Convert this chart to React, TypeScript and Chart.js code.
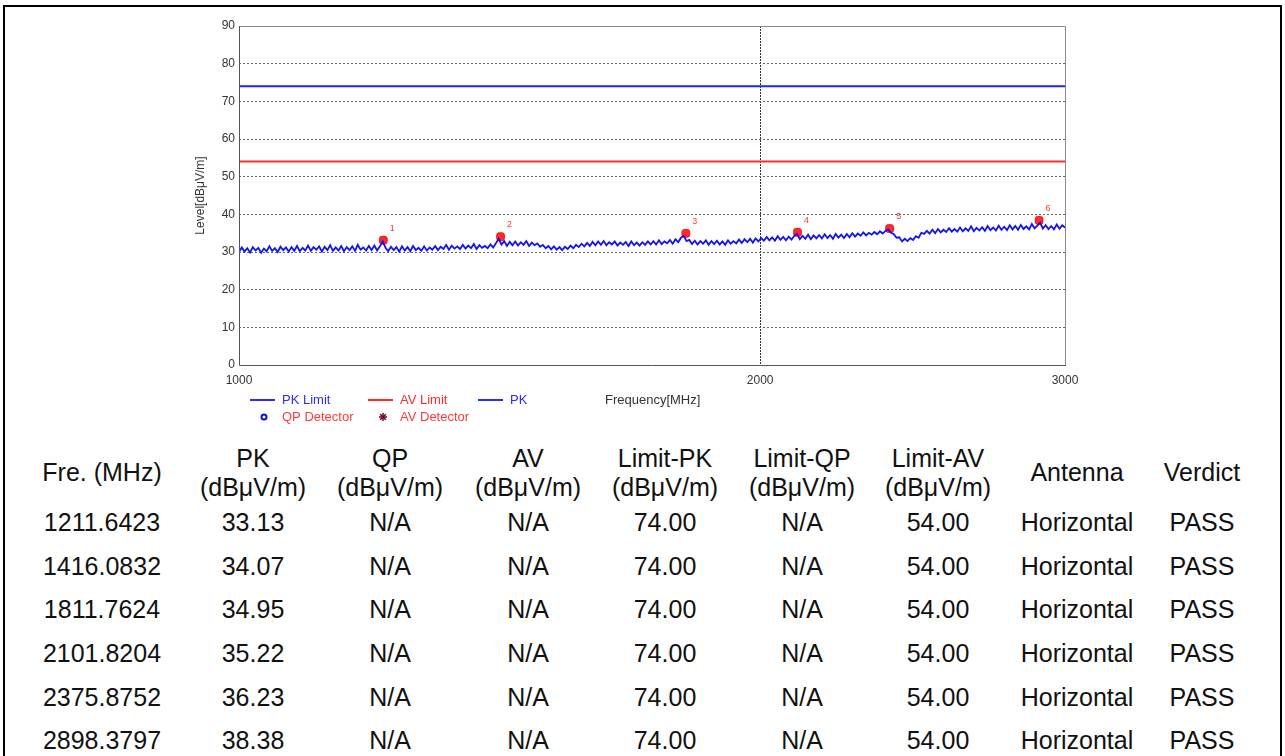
import React, { useEffect, useRef } from "react";
import { Chart, registerables } from "chart.js";

Chart.register(...registerables);

// ---- Data ----
const F_START = 1000;
const F_STOP = 3000;

// PK trace (dBµV/m) read from the sweep, 300 points from 1000 to 3000 MHz (log sweep grid)
const pkTrace = [
  30.0, 31.2, 30.1, 31.0, 29.9, 31.3, 30.4, 31.1, 29.8, 30.9,
  30.2, 31.5, 30.3, 31.0, 30.0, 31.4, 30.5, 31.2, 30.1, 31.3,
  30.3, 31.6, 30.2, 31.1, 30.4, 31.7, 30.3, 31.3, 30.6, 31.5,
  30.1, 31.4, 30.5, 31.8, 30.3, 31.2, 30.4, 31.6, 30.2, 31.3,
  30.5, 31.5, 30.3, 31.9, 30.6, 31.2, 30.4, 31.6, 30.5, 31.7,
  30.4, 31.5, 32.8, 31.2, 30.2, 31.4, 30.5, 31.3, 30.1, 31.5,
  30.4, 31.3, 30.2, 31.6, 30.5, 31.1, 30.3, 31.5, 30.4, 31.2,
  30.6, 31.6, 30.5, 31.4, 30.8, 31.9, 30.6, 31.7, 30.9, 31.5,
  30.8, 31.9, 30.9, 31.7, 31.0, 32.1, 30.8, 31.8, 31.1, 31.6,
  31.0, 32.0, 31.2, 32.3, 33.5, 32.0, 32.9, 31.6, 32.7, 31.8,
  32.8, 31.7, 32.6, 31.9, 32.9, 31.6, 32.5, 31.8, 32.3, 31.4,
  31.9, 31.0, 31.6, 30.7, 31.5, 30.6, 31.3, 30.5, 31.4, 30.8,
  31.7, 31.0, 31.9, 31.3, 32.2, 31.5, 32.4, 31.6, 32.7, 31.8,
  32.8, 31.9, 32.9, 31.8, 32.6, 32.0, 32.8, 31.7, 32.5, 31.9,
  32.7, 31.6, 32.8, 31.8, 32.5, 31.7, 32.6, 31.9, 32.8, 32.0,
  32.9, 32.0, 33.1, 32.1, 32.8, 32.3, 33.2, 32.2, 33.4, 32.6,
  33.8, 34.3, 32.9, 33.2, 32.1, 33.0, 32.0, 32.9, 32.2, 33.1,
  31.9, 32.9, 32.1, 33.0, 32.0, 32.8, 31.9, 33.1, 32.2, 32.9,
  32.3, 33.3, 32.4, 33.4, 32.6, 33.5, 32.5, 33.6, 32.8, 33.7,
  33.0, 34.0, 33.1, 33.9, 33.0, 34.2, 33.2, 34.0, 33.1, 34.1,
  33.3, 34.3, 34.8, 33.4, 34.3, 33.5, 34.6, 33.4, 34.4, 33.6,
  34.5, 33.6, 34.7, 33.7, 34.5, 33.5, 34.8, 33.8, 34.6, 33.7,
  34.8, 33.9, 35.0, 34.1, 34.9, 34.3, 35.2, 34.4, 35.1, 34.6,
  35.3, 34.7, 35.5, 34.9, 35.6, 36.0, 35.1, 34.8, 33.8, 33.9,
  32.8, 33.5, 32.9, 33.7, 33.2, 34.2, 33.8, 35.1, 34.8, 35.6,
  34.9, 35.9, 35.0, 36.1, 35.2, 35.9, 35.3, 36.3, 35.4, 36.1,
  35.4, 36.5, 35.5, 36.3, 35.6, 36.8, 35.5, 36.4, 35.7, 36.6,
  35.6, 36.9, 35.8, 36.5, 35.7, 37.0, 35.9, 36.7, 35.8, 37.1,
  36.0, 36.9, 35.9, 37.2, 36.1, 36.8, 36.0, 37.4, 36.3, 37.0,
  37.8, 36.2, 37.1, 36.1, 36.9, 36.0, 37.3, 36.2, 37.1, 36.5,
];

const markerFreq = [1211.6423, 1416.0832, 1811.7624, 2101.8204, 2375.8752, 2898.3797];
const markerPK = [33.13, 34.07, 34.95, 35.22, 36.23, 38.38];
const markerNames = ["1", "2", "3", "4", "5", "6"];
const markerQP = ["N/A", "N/A", "N/A", "N/A", "N/A", "N/A"];
const markerAV = ["N/A", "N/A", "N/A", "N/A", "N/A", "N/A"];
const limitQP = ["N/A", "N/A", "N/A", "N/A", "N/A", "N/A"];
const antenna = ["Horizontal", "Horizontal", "Horizontal", "Horizontal", "Horizontal", "Horizontal"];
const verdict = ["PASS", "PASS", "PASS", "PASS", "PASS", "PASS"];

const PK_LIMIT = 74;
const AV_LIMIT = 54;

const xTickValues = [1000, 2000, 3000];
const yMin = 0;
const yMax = 90;
const yStep = 10;

const headerCells: string[][] = [
  ["Fre. (MHz)"],
  ["PK", "(dBμV/m)"],
  ["QP", "(dBμV/m)"],
  ["AV", "(dBμV/m)"],
  ["Limit-PK", "(dBμV/m)"],
  ["Limit-QP", "(dBμV/m)"],
  ["Limit-AV", "(dBμV/m)"],
  ["Antenna"],
  ["Verdict"],
];

// ---- Layout constants ----
const colCenters = [102, 253, 390, 528, 665, 802, 938, 1077, 1202];
const rowCenters = [522, 566, 609, 653, 697, 740];
const FONT = "'Liberation Sans', Arial, Helvetica, sans-serif";

const textPlugin = {
  id: "emiText",
  afterDraw(chart: any) {
    const { ctx, chartArea, scales } = chart;
    const { left, right, top, bottom } = chartArea;
    ctx.save();
    // plot frame
    ctx.lineWidth = 1;
    ctx.strokeStyle = "#8a8a8a";
    ctx.beginPath();
    ctx.moveTo(left, top + 0.5);
    ctx.lineTo(right + 0.5, top + 0.5);
    ctx.lineTo(right + 0.5, bottom);
    ctx.stroke();
    ctx.strokeStyle = "#555";
    ctx.beginPath();
    ctx.moveTo(left + 0.5, top);
    ctx.lineTo(left + 0.5, bottom + 0.5);
    ctx.lineTo(right + 1, bottom + 0.5);
    ctx.stroke();

    // marker labels
    ctx.font = `9px ${FONT}`;
    ctx.fillStyle = "#ff3a3a";
    ctx.textAlign = "center";
    ctx.textBaseline = "middle";
    markerFreq.forEach((f, i) => {
      const x = scales.x.getPixelForValue(f);
      const y = scales.y.getPixelForValue(markerPK[i]);
      ctx.fillText(markerNames[i], x + 9, y - 12);
    });

    // y title
    ctx.save();
    ctx.translate(201, (top + bottom) / 2);
    ctx.rotate(-Math.PI / 2);
    ctx.font = `12px ${FONT}`;
    ctx.fillStyle = "#333";
    ctx.textAlign = "center";
    ctx.textBaseline = "middle";
    ctx.fillText("Level[dBμV/m]", 0, 0);
    ctx.restore();

    // x title
    ctx.font = `13px ${FONT}`;
    ctx.fillStyle = "#333";
    ctx.textAlign = "left";
    ctx.textBaseline = "middle";
    ctx.fillText("Frequency[MHz]", 605, 400);

    // legend row 1
    const legendLine = (x1: number, y: number, color: string, label: string) => {
      ctx.strokeStyle = color;
      ctx.lineWidth = 2;
      ctx.beginPath();
      ctx.moveTo(x1, y);
      ctx.lineTo(x1 + 25, y);
      ctx.stroke();
      ctx.fillStyle = color;
      ctx.fillText(label, x1 + 32, y);
    };
    legendLine(250, 400, "#2b2bff", "PK Limit");
    legendLine(368, 400, "#ff2b2b", "AV Limit");
    legendLine(478, 400, "#2b2bff", "PK");

    // legend row 2
    ctx.strokeStyle = "#1010d0";
    ctx.lineWidth = 2;
    ctx.beginPath();
    ctx.arc(264, 417, 2.5, 0, Math.PI * 2);
    ctx.stroke();
    ctx.fillStyle = "#ff3a3a";
    ctx.fillText("QP Detector", 282, 417);
    ctx.strokeStyle = "#7a0020";
    ctx.lineWidth = 1.5;
    for (let k = 0; k < 4; k++) {
      const a = (k * Math.PI) / 4;
      ctx.beginPath();
      ctx.moveTo(383 - 4 * Math.cos(a), 417 - 4 * Math.sin(a));
      ctx.lineTo(383 + 4 * Math.cos(a), 417 + 4 * Math.sin(a));
      ctx.stroke();
    }
    ctx.fillStyle = "#ff3a3a";
    ctx.fillText("AV Detector", 400, 417);
    ctx.restore();
  },
};

function EmiChart() {
  const canvasRef = useRef<HTMLCanvasElement | null>(null);

  useEffect(() => {
    if (!canvasRef.current) return;
    const n = pkTrace.length;
    const traceData = pkTrace.map((v, i) => ({
      x: F_START * Math.pow(F_STOP / F_START, i / (n - 1)),
      y: v,
    }));
    const markerData = markerFreq.map((f, i) => ({ x: f, y: markerPK[i] }));

    const chart = new Chart(canvasRef.current, {
      type: "line",
      data: {
        datasets: [
          {
            label: "PK Limit",
            data: [
              { x: F_START, y: PK_LIMIT },
              { x: F_STOP, y: PK_LIMIT },
            ],
            borderColor: "#2020ff",
            borderWidth: 2,
            pointRadius: 0,
          },
          {
            label: "AV Limit",
            data: [
              { x: F_START, y: AV_LIMIT },
              { x: F_STOP, y: AV_LIMIT },
            ],
            borderColor: "#ff2a2a",
            borderWidth: 2,
            pointRadius: 0,
          },
          {
            label: "PK",
            data: traceData,
            borderColor: "#1414ee",
            borderWidth: 1.8,
            pointRadius: 0,
            tension: 0,
          },
          {
            label: "Markers",
            data: markerData,
            showLine: false,
            pointStyle: "rectRounded",
            pointRadius: 4.5,
            pointBackgroundColor: "#ff2a2a",
            pointBorderColor: "#ff1010",
            pointBorderWidth: 1,
          },
          {
            label: "MarkerCross",
            data: markerData,
            showLine: false,
            pointStyle: "crossRot",
            pointRadius: 3,
            pointBorderColor: "#ffc0c0",
            pointBorderWidth: 1,
          },
        ],
      } as any,
      options: {
        responsive: false,
        animation: false,
        parsing: true,
        layout: { padding: { left: 199, right: 220, top: 26, bottom: 25 } },
        plugins: {
          legend: { display: false },
          tooltip: { enabled: false },
          title: { display: false },
        },
        scales: {
          x: {
            type: "logarithmic",
            min: F_START,
            max: F_STOP,
            afterBuildTicks: (s: any) => {
              s.ticks = xTickValues.map((v) => ({ value: v }));
            },
            afterFit: (s: any) => {
              s.height = 40;
            },
            ticks: {
              autoSkip: false,
              maxRotation: 0,
              padding: 8,
              color: "#333",
              font: { size: 12, family: FONT },
              callback: (v: any) => String(v),
            },
            grid: {
              drawTicks: false,
              lineWidth: 1,
              color: (c: any) =>
                c.tick && c.tick.value === 2000 ? "#333" : "rgba(0,0,0,0)",
            },
            border: { display: false, dash: [2, 1] },
          },
          y: {
            type: "linear",
            min: yMin,
            max: yMax,
            afterBuildTicks: (s: any) => {
              const t = [];
              for (let v = yMin; v <= yMax; v += yStep) t.push({ value: v });
              s.ticks = t;
            },
            afterFit: (s: any) => {
              s.width = 40;
            },
            ticks: {
              padding: 4,
              color: "#333",
              font: { size: 12, family: FONT },
            },
            grid: {
              drawTicks: false,
              lineWidth: 1,
              color: (c: any) =>
                c.tick && c.tick.value > yMin && c.tick.value < yMax
                  ? "#666"
                  : "rgba(0,0,0,0)",
            },
            border: { display: false, dash: [2, 2] },
          },
        },
      } as any,
      plugins: [textPlugin],
    });
    return () => chart.destroy();
  }, []);

  return (
    <canvas
      ref={canvasRef}
      width={1285}
      height={430}
      style={{ position: "absolute", left: 0, top: 0, width: 1285, height: 430 }}
    />
  );
}

const cellStyle = (cx: number, cy: number): React.CSSProperties => ({
  position: "absolute",
  left: cx - 110,
  width: 220,
  top: cy - 15,
  height: 30,
  lineHeight: "30px",
  textAlign: "center",
  fontFamily: FONT,
  fontSize: 25,
  color: "#111",
  whiteSpace: "nowrap",
});

export default function App() {
  const rows = markerFreq.map((f, i) => [
    f.toFixed(4),
    markerPK[i].toFixed(2),
    markerQP[i],
    markerAV[i],
    PK_LIMIT.toFixed(2),
    limitQP[i],
    AV_LIMIT.toFixed(2),
    antenna[i],
    verdict[i],
  ]);

  return (
    <div
      style={{
        position: "fixed",
        left: 0,
        top: 0,
        width: 1285,
        height: 756,
        background: "#fff",
        overflow: "hidden",
      }}
    >
      <div
        style={{
          position: "absolute",
          left: 3,
          top: 5,
          width: 1275,
          height: 800,
          border: "2.5px solid #000",
        }}
      />
      <EmiChart />
      {headerCells.map((lines, c) =>
        lines.length === 1 ? (
          <div key={"h" + c} style={cellStyle(colCenters[c], 472)}>
            {lines[0]}
          </div>
        ) : (
          <React.Fragment key={"h" + c}>
            <div style={cellStyle(colCenters[c], 458)}>{lines[0]}</div>
            <div style={cellStyle(colCenters[c], 487)}>{lines[1]}</div>
          </React.Fragment>
        )
      )}
      {rows.map((r, ri) =>
        r.map((txt, c) => (
          <div key={ri + "-" + c} style={cellStyle(colCenters[c], rowCenters[ri])}>
            {txt}
          </div>
        ))
      )}
    </div>
  );
}
